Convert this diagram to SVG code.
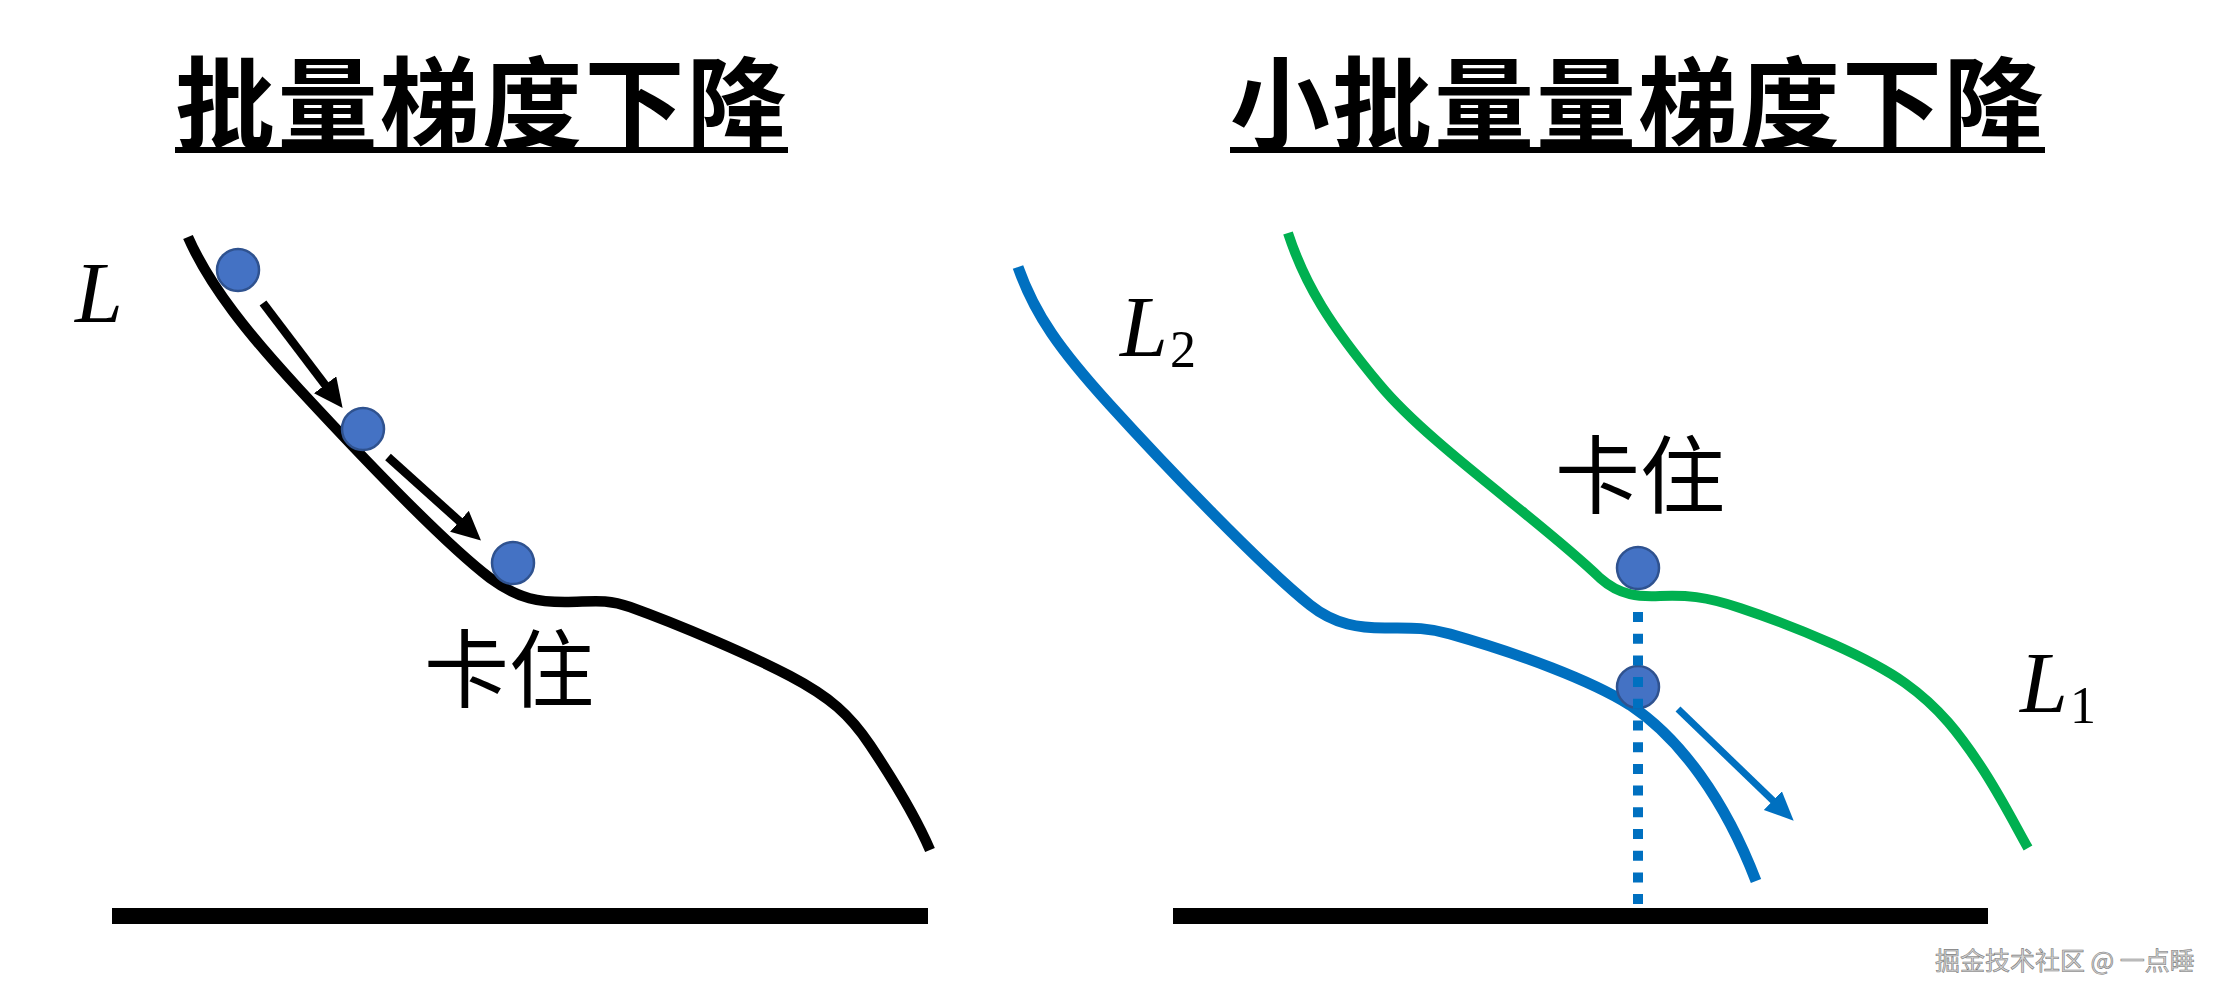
<svg xmlns="http://www.w3.org/2000/svg" width="2221" height="1000" viewBox="0 0 2221 1000">
<style>
.title{font-family:"Noto Sans CJK SC","Noto Sans CJK JP",sans-serif;font-weight:700;font-size:100px;fill:#000}
.cn{font-family:"Noto Sans CJK SC","Noto Sans CJK JP",sans-serif;font-weight:400;font-size:85px;fill:#000}
.math{font-family:"Liberation Serif","DejaVu Serif",serif;font-style:italic;font-size:86px;fill:#000}
.sub{font-family:"Liberation Serif","DejaVu Serif",serif;font-size:52px;fill:#000}
.ball{fill:#4472C4;stroke:#2F528F;stroke-width:2.5}
.ground{fill:#000}
.curve{fill:none;stroke-linecap:butt;stroke-linejoin:round}
.wm{font-family:"Noto Sans CJK SC",sans-serif;font-size:25px;fill:#d4d4d4;stroke:#7a7a7a;stroke-width:0.6}
</style>
<defs>
<marker id="ahBlack" markerUnits="userSpaceOnUse" viewBox="0 0 30 28" markerWidth="30" markerHeight="28" refX="4" refY="14" orient="auto"><path d="M0,0 L29,14 L0,28 z" fill="#000"/></marker>
<marker id="ahBlue" markerUnits="userSpaceOnUse" viewBox="0 0 30 28" markerWidth="30" markerHeight="28" refX="4" refY="14" orient="auto"><path d="M0,1 L29,14 L0,27 z" fill="#0070C0"/></marker>
</defs>
<rect width="2221" height="1000" fill="#fff"/>

<g id="title-left">
<text class="title" x="175" y="141" textLength="612" lengthAdjust="spacing">批量梯度下降</text>
<rect x="175" y="147" width="613" height="6" fill="#000"/>
</g>
<g id="title-right">
<text class="title" x="1230" y="141" textLength="814" lengthAdjust="spacing">小批量量梯度下降</text>
<rect x="1230" y="147" width="815" height="6" fill="#000"/>
</g>

<g id="left-panel">
<g id="curve-L"><path class="curve" stroke="#000" stroke-width="10.5" d="M188,237 C210,287 250,336 300,390 C350,444 440,540 490,578 C520,600 540,602 565,602 C590,602 605,598 630,607 C680,625 750,655 790,676 C830,697 850,715 870,745 C890,775 915,815 930,850"/></g>
<g id="label-L"><text class="math" x="75" y="322">L</text></g>
<g id="ground-left"><rect class="ground" x="112" y="908" width="816" height="16"/></g>
<g id="ball-1"><circle class="ball" cx="238" cy="270" r="21"/></g>
<g id="ball-2"><circle class="ball" cx="363" cy="429" r="21"/></g>
<g id="ball-3"><circle class="ball" cx="513" cy="563" r="21"/></g>
<g id="stuck-left"><text class="cn" x="424" y="701">卡住</text></g>
</g>

<g id="right-panel">
<g id="curve-L2"><path class="curve" stroke="#0070C0" stroke-width="11" d="M1018,267 C1035,315 1060,350 1110,405 C1160,460 1260,565 1310,605 C1335,625 1360,628 1385,628 C1410,628 1425,627 1450,634 C1520,654 1590,680 1630,705 C1680,738 1725,800 1756,881"/></g>
<g id="curve-L1"><path class="curve" stroke="#00B050" stroke-width="10" d="M1288,233 C1305,285 1330,325 1380,385 C1430,445 1540,520 1600,578 C1620,596 1640,597 1660,596 C1685,595 1705,596 1740,608 C1800,628 1870,658 1905,683 C1940,708 1960,735 1980,765 C2000,795 2015,825 2028,848"/></g>
<g id="label-L2"><text class="math" x="1120" y="356">L</text><text class="sub" x="1170" y="367">2</text></g>
<g id="label-L1"><text class="math" x="2020" y="712">L</text><text class="sub" x="2070" y="723">1</text></g>
<g id="ground-right"><rect class="ground" x="1173" y="908" width="815" height="16"/></g>
<g id="stuck-right"><text class="cn" x="1555" y="507">卡住</text></g>
<g id="ball-top"><circle class="ball" cx="1638" cy="568" r="21"/></g>
<g id="ball-bottom"><circle class="ball" cx="1638" cy="687" r="21"/></g>
</g>

<g id="connectors">
<line x1="263" y1="303" x2="327.5" y2="388" stroke="#000" stroke-width="8.5" marker-end="url(#ahBlack)"/>
<line x1="388" y1="457" x2="462.4" y2="523.9" stroke="#000" stroke-width="8.5" marker-end="url(#ahBlack)"/>
<line x1="1678" y1="709" x2="1775.7" y2="803.3" stroke="#0070C0" stroke-width="7" marker-end="url(#ahBlue)"/>
<line x1="1638" y1="612" x2="1638" y2="906" stroke="#0070C0" stroke-width="10" stroke-dasharray="10 11.7"/>
</g>

<g id="watermark"><text class="wm" x="1935" y="970">掘金技术社区 @ 一点睡</text></g>
</svg>
